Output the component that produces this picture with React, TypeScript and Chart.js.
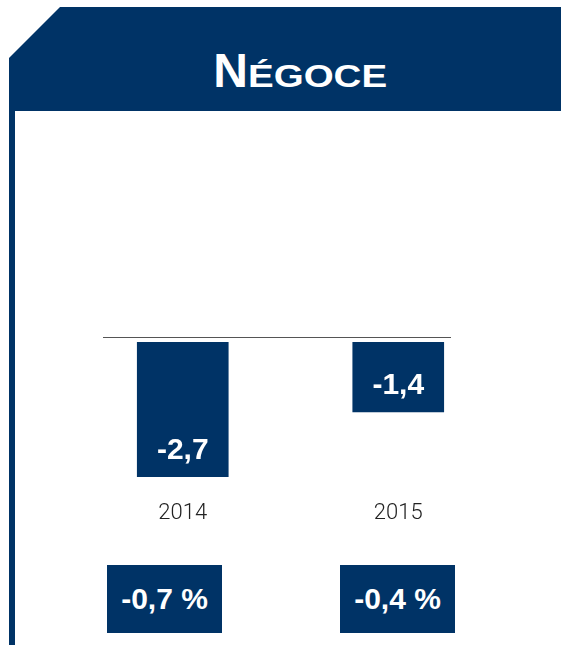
import React, { useEffect, useRef } from 'react';
import { Chart, registerables } from 'chart.js';

Chart.register(...registerables);

const categories: string[] = ['2014', '2015'];
const values: number[] = [-2.7, -1.4];
const shareLabels: string[] = ['-0,7 %', '-0,4 %'];
const titleFirst = 'N';
const titleRest = 'ÉGOCE';

const NAVY = '#003366';
const BOLD_FONT = '"Liberation Sans", Arial, sans-serif';

export default function App() {
  const ref = useRef<HTMLCanvasElement>(null);

  useEffect(() => {
    const labelPlugin = {
      id: 'barLabels',
      afterDatasetsDraw(chart: any) {
        const { ctx } = chart;
        const meta = chart.getDatasetMeta(0);
        ctx.save();
        ctx.fillStyle = '#ffffff';
        ctx.font = `bold 30px ${BOLD_FONT}`;
        ctx.textAlign = 'center';
        ctx.textBaseline = 'alphabetic';
        meta.data.forEach((bar: any, i: number) => {
          const txt = values[i].toFixed(1).replace('.', ',');
          ctx.fillText(txt, bar.x, bar.y - 18);
        });
        ctx.restore();
      },
    };

    const chart = new Chart(ref.current as HTMLCanvasElement, {
      type: 'bar',
      data: {
        labels: categories,
        datasets: [
          {
            data: values,
            backgroundColor: NAVY,
            borderWidth: 0,
            barThickness: 91,
          },
        ],
      },
      options: {
        animation: false,
        responsive: false,
        devicePixelRatio: 1,
        plugins: { legend: { display: false }, tooltip: { enabled: false } },
        layout: { padding: 0 },
        scales: {
          x: {
            grid: { display: false, drawTicks: false },
            border: { display: false },
            ticks: {
              padding: 9,
              color: '#222222',
              font: { family: 'Roboto', size: 22, weight: '300' },
            },
          },
          y: { display: false, min: -3, max: 0 },
        },
      },
      plugins: [labelPlugin],
    });
    return () => chart.destroy();
  }, []);

  const boxLefts = [107, 340];

  return (
    <div style={{ position: 'absolute', left: 0, top: 0, width: 561, height: 645, background: '#fff', overflow: 'hidden' }}>
      <svg width={561} height={645} style={{ position: 'absolute', left: 0, top: 0 }}>
        <polygon points="60,7 561,7 561,111 15,111 15,645 9,645 9,58" fill={NAVY} />
      </svg>
      <span
        style={{
          position: 'absolute', left: 213.2, top: 47.4, fontFamily: BOLD_FONT, fontWeight: 'bold',
          fontSize: 48, lineHeight: '48px', color: '#fff', whiteSpace: 'nowrap',
        }}
      >
        {titleFirst}
      </span>
      <span
        style={{
          position: 'absolute', left: 248, top: 55.4, fontFamily: BOLD_FONT, fontWeight: 'bold',
          fontSize: 38.5, lineHeight: '38.5px', color: '#fff', whiteSpace: 'nowrap',
          transform: 'scaleY(0.82)', transformOrigin: '0 32.6px',
        }}
      >
        {titleRest}
      </span>
      <div style={{ position: 'absolute', left: 103, top: 336.5, width: 348, height: 1.5, background: '#555' }} />
      <div style={{ position: 'absolute', left: 75, top: 342, width: 431, height: 194 }}>
        <canvas ref={ref} width={431} height={194} style={{ display: 'block' }} />
      </div>
      {shareLabels.map((s, i) => (
        <div
          key={s}
          style={{
            position: 'absolute', left: boxLefts[i], top: 565, width: 115, height: 68, background: NAVY,
            color: '#fff', fontFamily: BOLD_FONT, fontWeight: 'bold', fontSize: 30,
            display: 'flex', alignItems: 'center', justifyContent: 'center', whiteSpace: 'nowrap',
          }}
        >
          {s}
        </div>
      ))}
    </div>
  );
}
